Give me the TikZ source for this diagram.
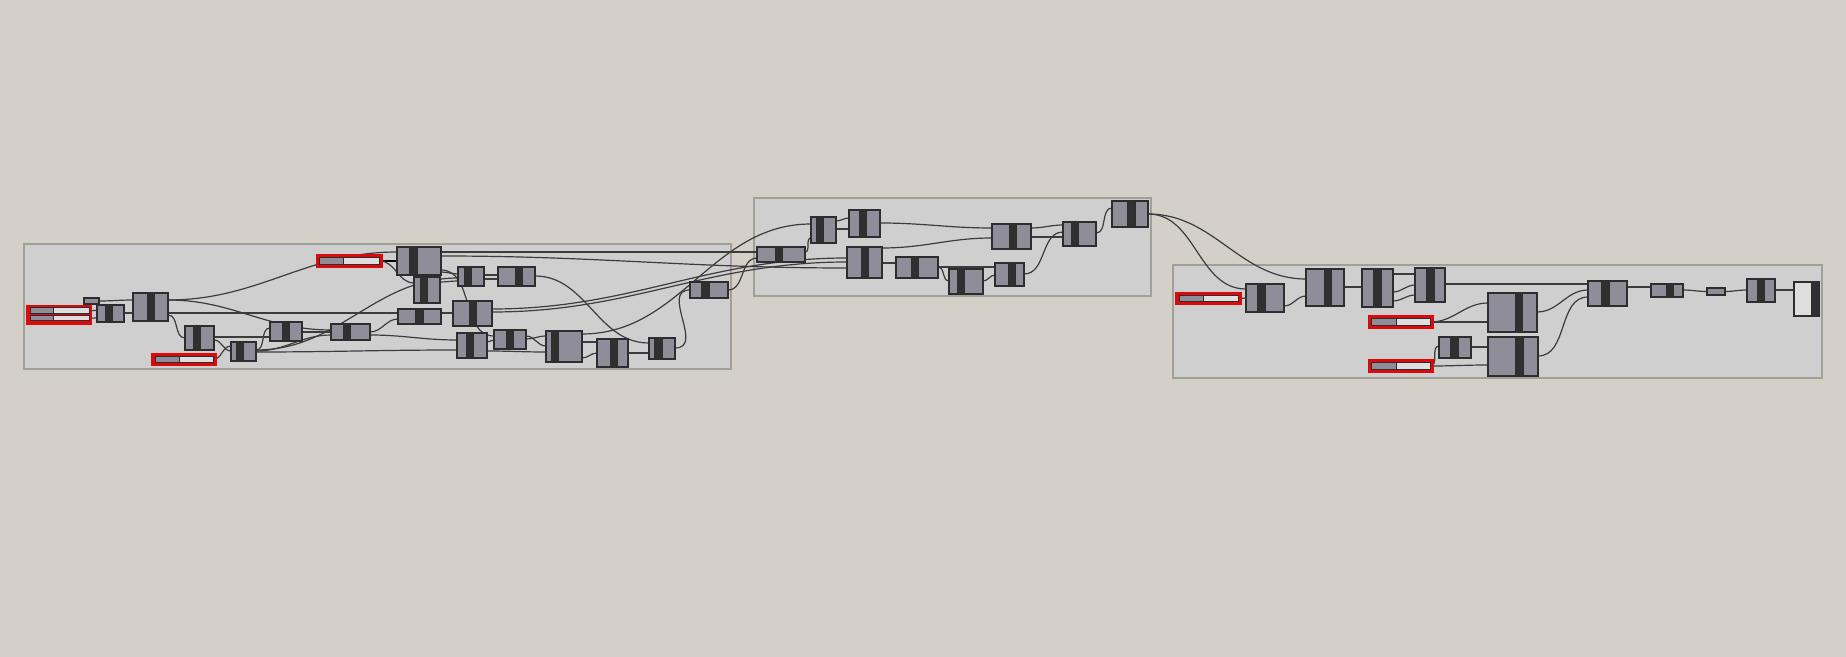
\documentclass[tikz,border=0pt]{standalone}
\usetikzlibrary{fit}

\definecolor{canvas}{RGB}{212,208,200}
\definecolor{groupfill}{RGB}{207,207,207}
\definecolor{groupline}{RGB}{160,160,154}
\definecolor{compfill}{RGB}{143,141,153}
\definecolor{compline}{RGB}{45,45,45}
\definecolor{barfill}{RGB}{48,48,48}
\definecolor{wirec}{RGB}{60,60,60}
\definecolor{redframe}{RGB}{220,10,10}
\definecolor{panelfill}{RGB}{222,222,222}

\pgfdeclarelayer{bg}
\pgfdeclarelayer{wirelayer}
\pgfsetlayers{bg,wirelayer,main}

\tikzset{
  comp/.style={draw=compline, fill=compfill, line width=0.6pt, inner sep=0pt, outer sep=0pt},
  bar/.style={draw=compline, fill=barfill, line width=0.5pt},
  wire/.style={draw=wirec, line width=0.6pt, out=0, in=180},
  groupbox/.style={draw=groupline, fill=groupfill, line width=0.6pt}
}

% 电池: 名称, x1, y1, x2, y2, 黑条 x1, x2
\newcommand{\ghcomp}[7]{%
  \node[comp, fit={(#2,#3) (#4,#5)}] (#1) {};
  \filldraw[bar] (#6,#3) rectangle (#7,#5);}
% 滑块: 名称, x1, y1, x2, y2, 分界
\newcommand{\ghslider}[6]{%
  \filldraw[draw=compline, fill=panelfill, line width=0.5pt] (#2,#3) rectangle (#4,#5);
  \filldraw[draw=compline, fill=compfill, line width=0.5pt] (#2,#3) rectangle (#6,#5);
  \node[inner sep=0pt, outer sep=0pt, fit={(#2,#3) (#4,#5)}] (#1) {};}

\begin{document}
\begin{tikzpicture}[x=0.5pt,y=-0.5pt]
  \useasboundingbox (0,0) rectangle (1846,657);

  % 画布与分组
  \begin{pgfonlayer}{bg}
    \fill[canvas] (0,0) rectangle (1846,657);
    \filldraw[groupbox] (24,244) rectangle (731,369);
    \filldraw[groupbox] (754,198) rectangle (1151,296);
    \filldraw[groupbox] (1173,265) rectangle (1822,378);
  \end{pgfonlayer}

  % 第一组
  \fill[redframe] (26,305) rectangle (92,325);
  \ghslider{s1}{30}{308}{89}{313.5}{53}
  \ghslider{s2}{30}{315.5}{89}{321}{53}
  \fill[redframe] (151,353) rectangle (217,366);
  \ghslider{sB}{155}{356.5}{213}{362.5}{179}
  \fill[redframe] (316,254) rectangle (383,268);
  \ghslider{sT}{319.5}{257.5}{379.5}{264.5}{343}
  \node[comp, fit={(84,298) (99,304)}] (p0) {};
  \ghcomp{A}{97}{305}{124}{322}{105}{112}
  \ghcomp{B}{133}{293}{168}{321}{147}{154}
  \ghcomp{C}{185}{326}{214}{350}{193}{200}
  \ghcomp{D}{231}{342}{256}{361}{236}{243}
  \ghcomp{E}{270}{322}{302}{341}{282}{289}
  \ghcomp{F}{331}{324}{370}{340}{343}{350}
  \ghcomp{G}{397}{247}{441}{275}{409}{417}
  \ghcomp{H}{414}{277}{440}{303}{420}{427}
  \ghcomp{I}{458}{267}{484}{286}{464}{471}
  \ghcomp{J}{498}{267}{535}{286}{515}{522}
  \ghcomp{K}{398}{309}{441}{324}{415}{423}
  \ghcomp{L}{453}{301}{492}{326}{469}{476}
  \ghcomp{M}{457}{333}{487}{358}{466}{473}
  \ghcomp{N}{494}{330}{526}{349}{506}{513}
  \ghcomp{O}{546}{331}{582}{362}{551}{558}
  \ghcomp{P}{597}{339}{628}{367}{610}{617}
  \ghcomp{Q}{649}{338}{675}{359}{654}{662}
  \ghcomp{R}{690}{282}{728}{298}{701}{709}

  % 第二组
  \ghcomp{S}{757}{247}{805}{262}{775}{782}
  \ghcomp{T}{811}{217}{836}{243}{816}{823}
  \ghcomp{U}{849}{210}{880}{237}{859}{866}
  \ghcomp{V}{847}{247}{882}{278}{861}{868}
  \ghcomp{W}{896}{257}{938}{278}{911}{918}
  \ghcomp{X}{949}{269}{983}{294}{957}{964}
  \ghcomp{Y}{995}{263}{1024}{286}{1008}{1015}
  \ghcomp{Z}{992}{224}{1031}{249}{1009}{1016}
  \ghcomp{AA}{1063}{222}{1096}{246}{1071}{1078}
  \ghcomp{AB}{1112}{201}{1148}{227}{1127}{1135}

  % 第三组
  \fill[redframe] (1175,292) rectangle (1242,305);
  \ghslider{s3}{1179}{295.5}{1238}{301.5}{1203}
  \fill[redframe] (1368,315) rectangle (1434,329);
  \ghslider{s4}{1371.5}{318.5}{1430.5}{325.5}{1396}
  \fill[redframe] (1368,359) rectangle (1434,373);
  \ghslider{s5}{1371.5}{362.5}{1430.5}{369.5}{1396}
  \ghcomp{BA}{1246}{284}{1284}{312}{1257}{1265}
  \ghcomp{BB}{1306}{269}{1344}{306}{1324}{1331}
  \ghcomp{BC}{1362}{269}{1393}{307}{1373}{1381}
  \ghcomp{BD}{1415}{268}{1445}{302}{1426}{1434}
  \ghcomp{BE}{1439}{337}{1471}{358}{1450}{1458}
  \ghcomp{BF}{1488}{293}{1537}{332}{1515}{1522}
  \ghcomp{BG}{1488}{337}{1538}{376}{1515}{1523}
  \ghcomp{BH}{1588}{281}{1627}{306}{1601}{1609}
  \ghcomp{BI}{1651}{284}{1683}{297}{1666}{1673}
  \node[comp, fit={(1707,288) (1725,295)}] (BJ) {};
  \ghcomp{BK}{1747}{279}{1775}{302}{1757}{1764}
  \node[comp, fill=panelfill, fit={(1794,282) (1819,316)}] (BL) {};
  \filldraw[bar] (1811,282) rectangle (1819,316);

  % 连线
  \begin{pgfonlayer}{wirelayer}
    \draw[wire] (p0.east) to (B.west |- 0,300);
    \draw[wire] (s1.east) to (A.west |- 0,310.5);
    \draw[wire] (s2.east) to (A.west |- 0,318);
    \draw[wire] (A.east |- 0,313) to (B.west |- 0,313);
    \draw[wire] (B.east |- 0,300) to (G.west |- 0,252);
    \draw[wire] (B.east |- 0,300) to (F.west |- 0,330);
    \draw[wire] (B.east |- 0,313) to (K.west |- 0,313);
    \draw[wire] (B.east |- 0,315) to (C.west |- 0,338);
    \draw[wire] (C.east |- 0,337) to (E.west |- 0,337);
    \draw[wire] (C.east |- 0,340) to (D.west |- 0,351);
    \draw[wire] (sB.east) to (D.west |- 0,346);
    \draw[wire] (D.east |- 0,350) to (E.west |- 0,328);
    \draw[wire] (D.east |- 0,352) to (M.west |- 0,350);
    \draw[wire] (D.east |- 0,351) to (F.west |- 0,335);
    \draw[wire] (D.east |- 0,350) to (I.west |- 0,278);
    \draw[wire] (E.east |- 0,332) to (F.west |- 0,332);
    \draw[wire, draw=black, line width=1.1pt] (sT.east) to (G.west |- 0,261);
    \draw[wire] (sT.east) to (H.west |- 0,283);
    \draw[wire] (F.east |- 0,332) to (K.west |- 0,319);
    \draw[wire] (F.east |- 0,335) to (M.west |- 0,340);
    \draw[wire] (G.east |- 0,272) to (I.west |- 0,274);
    \draw[wire] (G.east |- 0,270) to (N.west |- 0,336);
    \draw[wire] (G.east |- 0,252) to (S.west |- 0,252);
    \draw[wire] (G.east |- 0,256) to (V.west |- 0,268);
    \draw[wire] (H.east |- 0,282) to (I.west |- 0,281);
    \draw[wire] (I.east |- 0,275) to (J.west |- 0,275);
    \draw[wire] (I.east |- 0,279) to (J.west |- 0,279);
    \draw[wire] (J.east |- 0,276) to (Q.west |- 0,343);
    \draw[wire] (K.east |- 0,313) to (L.west |- 0,313);
    \draw[wire] (L.east |- 0,309) to (V.west |- 0,258);
    \draw[wire] (L.east |- 0,312) to (V.west |- 0,262);
    \draw[wire] (M.east |- 0,342) to (N.west |- 0,340);
    \draw[wire] (M.east |- 0,351) to (O.west |- 0,352);
    \draw[wire] (N.east |- 0,336) to (O.west |- 0,346);
    \draw[wire] (N.east |- 0,339) to (O.west |- 0,336);
    \draw[wire] (O.east |- 0,342) to (P.west |- 0,342);
    \draw[wire] (O.east |- 0,358) to (P.west |- 0,353);
    \draw[wire] (O.east |- 0,334) to (T.west |- 0,224);
    \draw[wire] (P.east |- 0,353) to (Q.west |- 0,353);
    \draw[draw=wirec, line width=0.6pt] (Q.east |- 0,348) .. controls +(30,0) and +(-30,0) .. (R.west |- 0,290);
    \draw[wire] (R.east |- 0,290) to (S.west |- 0,258);
    \draw[wire] (S.east |- 0,252) to (T.west |- 0,238);
    \draw[wire] (T.east |- 0,221) to (U.west |- 0,218);
    \draw[wire] (T.east |- 0,229) to (U.west |- 0,229);
    \draw[wire] (U.east |- 0,223) to (Z.west |- 0,228);
    \draw[wire] (V.east |- 0,248) to (Z.west |- 0,238);
    \draw[wire] (V.east |- 0,263) to (W.west |- 0,263);
    \draw[wire] (W.east |- 0,267) to (X.west |- 0,281);
    \draw[wire] (W.east |- 0,267) to (Y.west |- 0,267);
    \draw[wire] (X.east |- 0,281) to (Y.west |- 0,275);
    \draw[wire] (Y.east |- 0,274) to (AA.west |- 0,232);
    \draw[wire] (Z.east |- 0,228) to (AA.west |- 0,225);
    \draw[wire] (Z.east |- 0,237) to (AA.west |- 0,237);
    \draw[wire] (AA.east |- 0,233) to (AB.west |- 0,208);
    \draw[wire] (AB.east |- 0,214) to (BA.west |- 0,289);
    \draw[wire] (AB.east |- 0,214) to (BB.west |- 0,279);
    \draw[wire] (s3.east) to (BA.west |- 0,298);
    \draw[wire] (BA.east |- 0,306) to (BB.west |- 0,296);
    \draw[wire] (BB.east |- 0,287) to (BC.west |- 0,287);
    \draw[wire] (BC.east |- 0,274) to (BD.west |- 0,274);
    \draw[wire] (BC.east |- 0,292) to (BD.west |- 0,285);
    \draw[wire] (BC.east |- 0,301) to (BD.west |- 0,295);
    \draw[wire] (BD.east |- 0,284) to (BH.west |- 0,284);
    \draw[wire] (s4.east) to (BF.west |- 0,303);
    \draw[wire] (s4.east) to (BF.west |- 0,322);
    \draw[wire] (s5.east) to (BE.west |- 0,346);
    \draw[wire] (s5.east) to (BG.west |- 0,365);
    \draw[wire] (BE.east |- 0,347) to (BG.west |- 0,347);
    \draw[wire] (BF.east |- 0,312) to (BH.west |- 0,290);
    \draw[wire] (BG.east |- 0,356) to (BH.west |- 0,297);
    \draw[wire] (BH.east |- 0,287) to (BI.west |- 0,287);
    \draw[wire] (BI.east |- 0,290) to (BJ.west);
    \draw[wire] (BJ.east) to (BK.west |- 0,290);
    \draw[wire] (BK.east |- 0,290) to (BL.west |- 0,290);
  \end{pgfonlayer}
\end{tikzpicture}
\end{document}
